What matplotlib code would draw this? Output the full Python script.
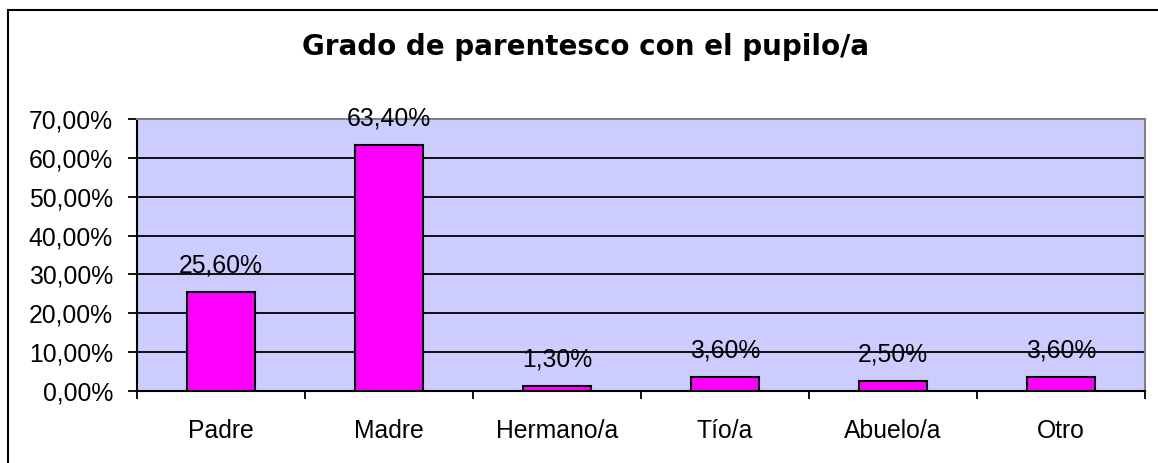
import matplotlib
matplotlib.use("Agg")
import matplotlib.pyplot as plt
from matplotlib.patches import Rectangle
import numpy as np

categories = ["Padre", "Madre", "Hermano/a", "Tío/a", "Abuelo/a", "Otro"]
values = [25.60, 63.40, 1.30, 3.60, 2.50, 3.60]
labels = ["25,60%", "63,40%", "1,30%", "3,60%", "2,50%", "3,60%"]
yticks = [0, 10, 20, 30, 40, 50, 60, 70]
ytick_labels = ["0,00%", "10,00%", "20,00%", "30,00%", "40,00%", "50,00%", "60,00%", "70,00%"]
title = "Grado de parentesco con el pupilo/a"

W, H = 1158, 463
fig = plt.figure(figsize=(W / 100, H / 100), dpi=100)
fig.patch.set_facecolor("white")

# outer chart border
fig.patches.append(Rectangle((8 / W, -0.1), 1.2, (H - 10) / H + 0.1,
                             transform=fig.transFigure, fill=False,
                             edgecolor="black", linewidth=1.5))

ax = fig.add_axes([137 / W, (H - 391) / H, (1145 - 137) / W, (391 - 119) / H])
ax.set_facecolor("#CCCCFF")

x = np.arange(len(categories))
ax.bar(x, values, width=0.405, color="#FF00FF", edgecolor="black",
       linewidth=1.5, zorder=3)
ax.set_xlim(-0.5, len(categories) - 0.5)
ax.set_ylim(0, 70)

for v in yticks[1:-1]:
    ax.axhline(v, color="black", linewidth=1.3, zorder=1)

font = "Liberation Sans"
fs = 17.8
ax.set_yticks(yticks)
ax.set_yticklabels(ytick_labels, fontsize=fs, family=font)
ax.tick_params(axis="y", direction="out", length=6.5, width=1.3, pad=10.8)

ax.set_xticks(np.arange(len(categories) + 1) - 0.5)
ax.set_xticklabels([])
ax.set_xticks(x, minor=True)
ax.set_xticklabels(categories, minor=True, fontsize=fs, family=font)
ax.tick_params(axis="x", which="major", direction="out", length=5.8, width=1.3)
ax.tick_params(axis="x", which="minor", length=0, pad=20)

for xi, v, lab in zip(x, values, labels):
    ax.annotate(lab, (xi, v), xytext=(0, 14), textcoords="offset points",
                ha="center", va="baseline", fontsize=fs, family=font,
                clip_on=False, zorder=4)

for s in ["left", "bottom"]:
    ax.spines[s].set_color("black")
    ax.spines[s].set_linewidth(1.5)
for s in ["top", "right"]:
    ax.spines[s].set_color("#808080")
    ax.spines[s].set_linewidth(1.5)

fig.text(586 / W, 1 - 47 / H, title, ha="center", va="center",
         fontsize=20, fontweight="bold", family="DejaVu Sans")

fig.savefig("out.png", dpi=100)
